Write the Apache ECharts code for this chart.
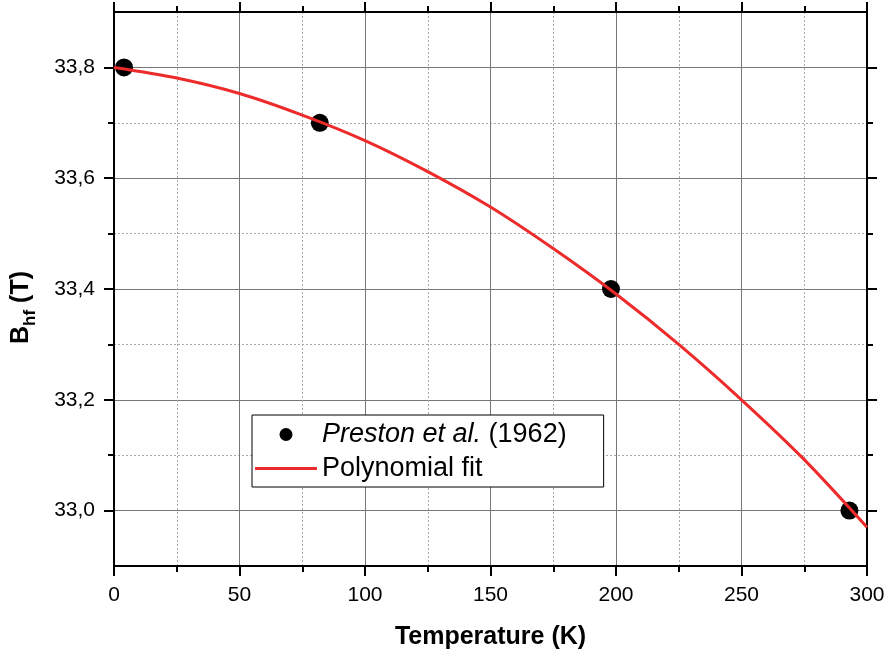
<!DOCTYPE html>
<html><head><meta charset="utf-8">
<script src="https://cdn.jsdelivr.net/npm/echarts@6/dist/echarts.min.js"></script>
<style>html,body{margin:0;padding:0;background:#fff}#c{width:888px;height:656px}</style>
</head><body><div id="c"></div>
<script>
// ---- data ----
const xMin = 0, xMax = 300, xStep = 50;
const yMin = 32.9, yMax = 33.9;
const yTickValues = [33.0, 33.2, 33.4, 33.6, 33.8];
const yMinorValues = [33.1, 33.3, 33.5, 33.7];
const prestonT = [4, 82, 198, 293];
const prestonB = [33.80, 33.70, 33.40, 33.00];
const fitT = [0, 25, 50, 75, 100, 125, 150, 175, 200, 225, 250, 275, 300];
const fitB = [33.800, 33.781, 33.753, 33.714, 33.668, 33.612, 33.548, 33.473, 33.391, 33.300, 33.200, 33.092, 32.970];
const seriesNames = ['Preston et al. (1962)', 'Polynomial fit'];

const FONT = "'Liberation Sans', Arial, sans-serif";
const chart = echarts.init(document.getElementById('c'), null, {renderer: 'canvas'});
const axisLine = {show: true, onZero: false, lineStyle: {color: '#000', width: 2}};
const majorGrid = {show: true, lineStyle: {color: '#777', width: 1, type: 'solid'}};
const minorGrid = {show: true, lineStyle: {color: '#aaa', width: 1, type: [2, 2]}};
const fmtY = v => Number(v).toFixed(1).replace('.', ',');

function xAx(pos, labels) {
  return {
    type: 'value', position: pos, min: xMin, max: xMax, interval: xStep,
    axisLine,
    axisTick: {show: true, inside: false, length: 10, lineStyle: {color: '#000', width: 2}},
    minorTick: {show: true, splitNumber: 2, length: 6, lineStyle: {color: '#000', width: 2}},
    axisLabel: {show: labels, fontSize: 21, color: '#000', fontFamily: FONT, margin: 19},
    splitLine: labels ? majorGrid : {show: false},
    minorSplitLine: labels ? minorGrid : {show: false}
  };
}
function yAx(pos, values, len, labels, split) {
  return {
    type: 'value', position: pos, min: yMin, max: yMax, interval: 0.1,
    axisLine,
    axisTick: {show: true, inside: false, length: len, customValues: values, lineStyle: {color: '#000', width: 2}},
    axisLabel: labels ? {show: true, customValues: values, formatter: fmtY, fontSize: 21, color: '#000', fontFamily: FONT, margin: 19} : {show: false},
    splitLine: split || {show: false}
  };
}

const yMain = yAx('left', yTickValues, 10, true, majorGrid);
yMain.name = '{b|B}{s|hf}{b| (T)}';
yMain.nameLocation = 'middle';
yMain.nameGap = 75;
yMain.nameRotate = 90;
yMain.nameTextStyle = {
  padding: [0, 37, 0, 0],
  rich: {
    b: {fontSize: 25, fontWeight: 'bold', color: '#000', fontFamily: FONT},
    s: {fontSize: 17, fontWeight: 'bold', color: '#000', fontFamily: FONT, padding: [18, 0, 0, 0]}
  }
};

const xMain = xAx('bottom', true);
xMain.name = 'Temperature (K)';
xMain.nameLocation = 'middle';
xMain.nameGap = 59;
xMain.nameTextStyle = {fontSize: 25, fontWeight: 'bold', color: '#000', fontFamily: FONT};

const option = {
  backgroundColor: '#fff',
  animation: false,
  grid: {left: 114, right: 21, top: 12, bottom: 90, containLabel: false, outerBoundsMode: 'none'},
  xAxis: [xMain, xAx('top', false)],
  yAxis: [
    yMain,
    yAx('left', yMinorValues, 6, false, minorGrid),
    yAx('right', yTickValues, 10, false, null),
    yAx('right', yMinorValues, 6, false, null)
  ],
  legend: {
    orient: 'vertical', left: 252, top: 415,
    padding: [6, 37, 5, 3],
    borderColor: '#000', borderWidth: 1, backgroundColor: '#fff',
    itemWidth: 62, itemHeight: 13, itemGap: 7,
    textStyle: {fontSize: 27, color: '#000', fontFamily: FONT,
      rich: {i: {fontSize: 27, fontStyle: 'italic', color: '#000', fontFamily: FONT}}},
    formatter: n => n === seriesNames[0] ? '{i|Preston et al.} (1962)' : n,
    data: [
      {name: seriesNames[0], icon: 'circle'},
      {name: seriesNames[1], icon: 'path://M0,0H62V3H0Z'}
    ]
  },
  series: [
    {
      name: seriesNames[0], type: 'scatter', xAxisIndex: 0, yAxisIndex: 0,
      symbol: 'circle', symbolSize: 18, itemStyle: {color: '#000', opacity: 1},
      data: prestonT.map((t, i) => [t, prestonB[i]]), z: 3
    },
    {
      name: seriesNames[1], type: 'line', xAxisIndex: 0, yAxisIndex: 0,
      symbol: 'none', smooth: 0.3,
      lineStyle: {color: '#ee2b2b', width: 3},
      itemStyle: {color: '#ee2b2b'},
      data: fitT.map((t, i) => [t, fitB[i]]), z: 4
    }
  ]
};
chart.setOption(option);
</script></body></html>
